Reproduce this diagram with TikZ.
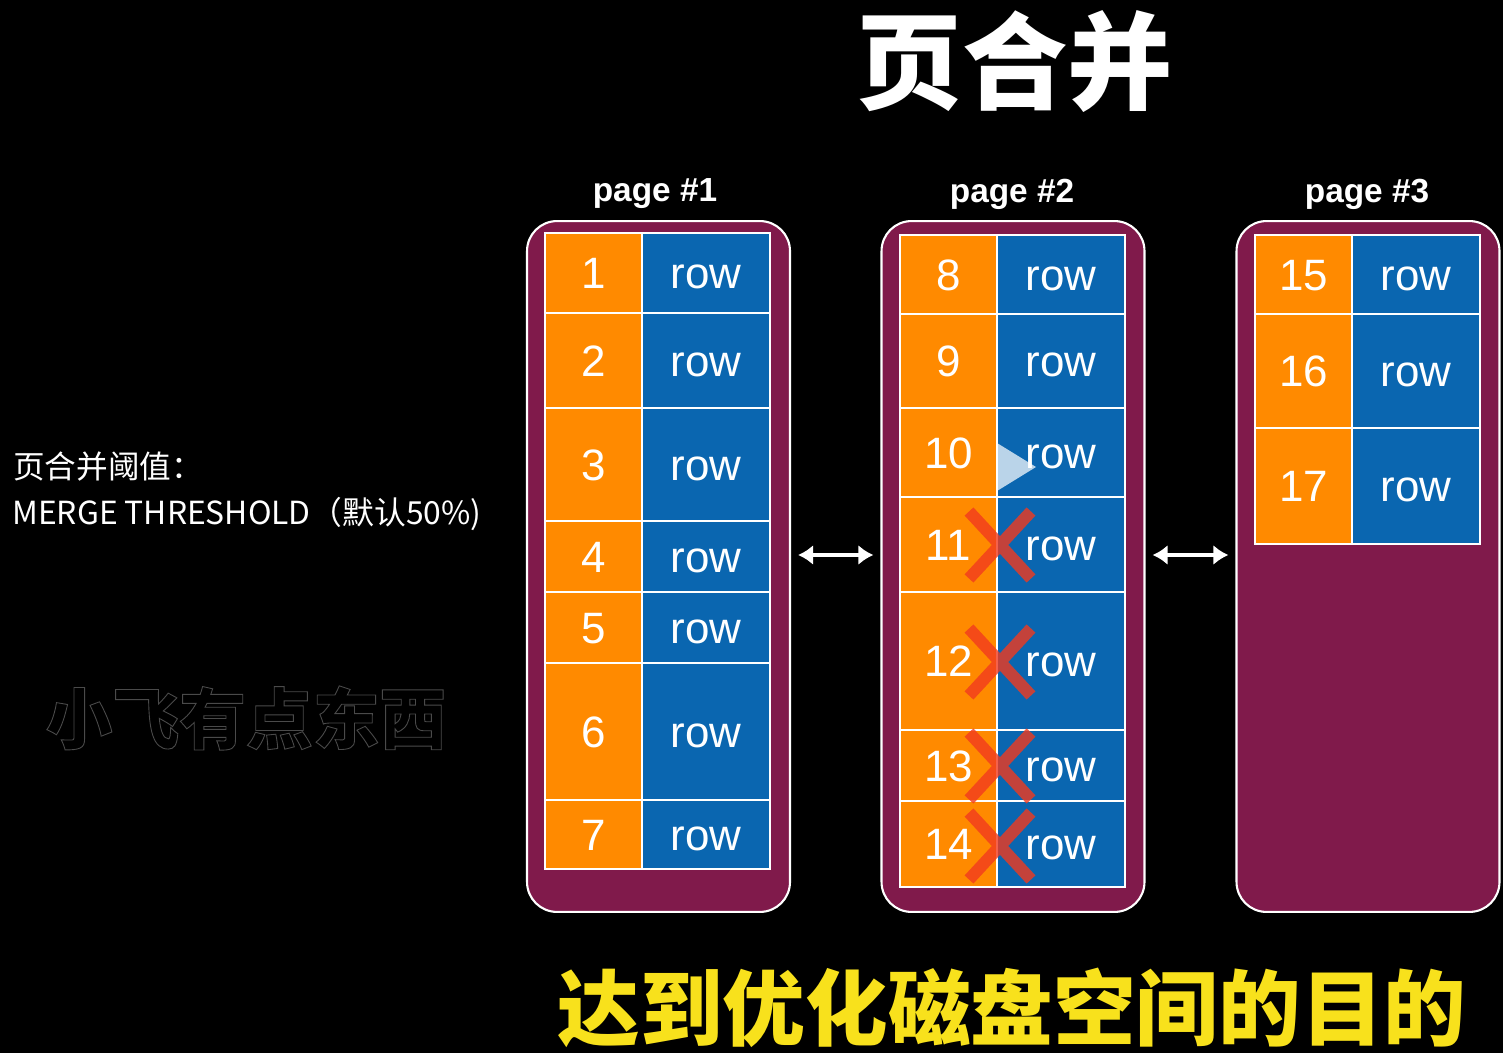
\documentclass[tikz,border=0pt]{standalone}
\usepackage{fontspec}
\setmainfont{Liberation Sans}
\newfontfamily\cjk{Noto Sans CJK SC}
\usetikzlibrary{arrows.meta,shapes.misc}
\definecolor{pagepurple}{HTML}{801A4B}
\definecolor{cellorange}{HTML}{FF8A00}
\definecolor{cellblue}{HTML}{0A66B0}
\definecolor{xred}{HTML}{F23A1E}
\definecolor{titleyellow}{HTML}{F8E11C}
\definecolor{wmgray}{HTML}{4A4A4A}
% name, x-left, y-top, y-bottom, number
\newcommand\cellpair[5]{%
  \node[ocell, minimum height={(#4-#3)*0.02cm}] (#1a) at ({#2+48.5},{(#3+#4)/2}) {#5};
  \node[bcell, minimum height={(#4-#3)*0.02cm}] (#1b) at ({#2+161},{(#3+#4)/2}) {row};
}
\begin{document}
\begin{tikzpicture}[x=0.02cm,y=-0.02cm,
  pagebox/.style={draw=white, line width=1.2pt, fill=pagepurple, rounded corners=0.6cm,
    minimum width=5.26cm, minimum height=13.82cm, inner sep=0pt},
  cellbase/.style={draw=white, line width=0.8pt, inner sep=0pt, text=white,
    text height=17.9pt, text depth=0pt,
    font=\fontsize{25}{30}\selectfont},
  ocell/.style={cellbase, fill=cellorange, minimum width=1.94cm},
  bcell/.style={cellbase, fill=cellblue, minimum width=2.56cm},
  pagelabel/.style={text=white, font=\bfseries\fontsize{19}{23}\selectfont},
  dblarrow/.style={draw=white, line width=2.6pt, {Latex[length=0.3cm,width=0.4cm]}-{Latex[length=0.3cm,width=0.4cm]}},
  xmark/.style={cross out, draw=xred, draw opacity=0.8, line width=0.24cm,
    minimum width=1.0cm, minimum height=1.1cm, inner sep=0pt}
]
\useasboundingbox[fill=black] (0,0) rectangle (1503,1053);

% title
\node[text=white, font=\cjk\bfseries\fontsize{60}{70}\selectfont] (title) at (1015,62) {页合并};

% left texts
\node[anchor=west, text=white, font=\cjk\fontsize{18}{22}\selectfont, inner sep=0pt] (th1) at (13,467) {页合并阈值：};
\node[anchor=west, text=white, font=\cjk\fontsize{18.1}{22}\selectfont, inner sep=0pt] (th2) at (12,514) {MERGE THRESHOLD（默认50\%)};

% watermark
\node[text=wmgray, font=\cjk\bfseries\fontsize{38}{44}\selectfont, inner sep=0pt] (wm) at (246,718)
  {\special{pdf:literal direct 1 Tr 0.5 w}小飞有点东西\special{pdf:literal direct 0 Tr}};

% pages
\node[pagebox] (p1) at (658.5,566.5) {};
\node[pagebox] (p2) at (1013,566.5) {};
\node[pagebox] (p3) at (1368,566.5) {};

\node[pagelabel] (l1) at (655,194) {page \#1};
\node[pagelabel] (l2) at (1012,194) {page \#2};
\node[pagelabel] (l3) at (1367,194) {page \#3};

% page 1 rows
\cellpair{r1}{545}{233}{313}{1}
\cellpair{r2}{545}{313}{408}{2}
\cellpair{r3}{545}{408}{521}{3}
\cellpair{r4}{545}{521}{592}{4}
\cellpair{r5}{545}{592}{663}{5}
\cellpair{r6}{545}{663}{800}{6}
\cellpair{r7}{545}{800}{869}{7}

% page 2 rows
\cellpair{r8}{900}{235}{314}{8}
\cellpair{r9}{900}{314}{408}{9}
\cellpair{r10}{900}{408}{497}{10}
\cellpair{r11}{900}{497}{592}{11}
\cellpair{r12}{900}{592}{730}{12}
\cellpair{r13}{900}{730}{801}{13}
\cellpair{r14}{900}{801}{887}{14}

% page 3 rows
\cellpair{r15}{1255}{235}{314}{15}
\cellpair{r16}{1255}{314}{428}{16}
\cellpair{r17}{1255}{428}{544}{17}

% play triangle overlay
\fill[white, opacity=0.72] (997,443) -- (1036,467) -- (997,491) -- cycle;

% red crosses
\node[xmark] (x11) at (1000,545) {};
\node[xmark] (x12) at (1000,662) {};
\node[xmark] (x13) at (1000,766) {};
\node[xmark] (x14) at (1000,846) {};

% arrows
\draw[dblarrow] ([xshift=0.14cm,yshift=0.23cm]p1.east) -- ([xshift=-0.14cm,yshift=0.23cm]p2.west);
\draw[dblarrow] ([xshift=0.14cm,yshift=0.23cm]p2.east) -- ([xshift=-0.14cm,yshift=0.23cm]p3.west);

% bottom caption
\node[text=titleyellow, font=\cjk\bfseries\fontsize{47}{54}\selectfont, inner sep=0pt] (caption) at (1012,1008) {达到优化磁盘空间的目的};
\end{tikzpicture}
\end{document}
